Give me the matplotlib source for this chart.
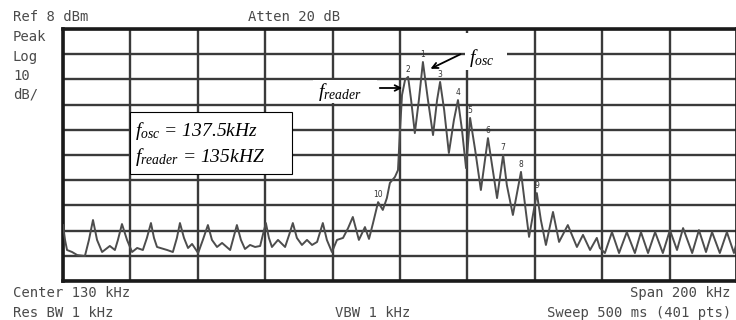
import matplotlib
matplotlib.use("Agg")
import matplotlib.pyplot as plt
from matplotlib.patches import Rectangle
import numpy as np

# spectrum trace (kHz, dBm)
freq_khz = [30.0, 30.6, 31.2, 32.7, 34.2, 36.5, 37.7, 38.9, 40.1, 41.6,
            43.9, 45.4, 46.3, 47.5, 49.0, 50.5, 52.0, 53.7, 54.9, 56.1,
            57.0, 57.9, 60.9, 62.6, 63.8, 64.7, 65.9, 67.1, 68.3, 70.1,
            71.5, 73.0, 74.2, 75.7, 77.2, 79.6, 80.4, 81.6, 82.8, 84.0,
            85.5, 87.0, 88.5, 89.3, 90.2, 91.1, 92.0, 93.8, 95.9, 97.1,
            98.2, 99.4, 100.9, 102.4, 103.9, 105.4, 106.3, 107.1, 108.3, 109.8,
            111.3, 113.1, 114.6, 116.0, 117.8, 119.6, 120.8, 122.0, 123.5, 124.9,
            126.1, 127.0, 128.5, 129.4, 130.0, 130.6, 131.5, 132.4, 133.3, 134.4,
            135.6, 136.8, 138.3, 139.8, 141.0, 141.9, 143.1, 144.5, 146.0, 147.2,
            148.4, 149.6, 150.8, 152.3, 154.0, 156.1, 157.3, 158.8, 160.6, 161.7,
            163.5, 165.9, 167.1, 168.3, 170.6, 171.8, 173.3, 175.4, 177.2, 179.8,
            182.5, 184.3, 186.4, 188.4, 189.3, 190.8, 192.9, 195.0, 197.3, 199.7,
            201.5, 203.6, 205.7, 208.0, 210.1, 212.2, 214.0, 216.7, 218.7, 220.8,
            222.6, 224.9, 227.0, 229.1, 229.7]
level_dbm = [-69.8, -75.7, -79.7, -80.5, -81.7, -82.1, -75.7, -67.8, -75.7, -80.5,
             -78.1, -79.7, -75.7, -69.4, -75.7, -80.5, -78.9, -79.7, -74.9, -69.0,
             -74.9, -78.5, -79.7, -80.5, -74.9, -69.0, -74.9, -78.9, -77.3, -80.9,
             -75.7, -69.8, -75.7, -78.5, -76.9, -79.7, -75.7, -69.8, -75.7, -79.3,
             -77.7, -78.5, -78.1, -73.7, -69.0, -74.9, -78.5, -75.7, -78.5, -73.7,
             -69.0, -74.9, -77.7, -75.7, -77.7, -76.5, -72.6, -69.0, -75.7, -80.5,
             -75.7, -74.9, -71.0, -66.6, -75.7, -70.6, -75.3, -69.0, -60.7, -63.8,
             -59.1, -53.1, -50.7, -48.0, -32.1, -18.2, -12.2, -11.0, -20.2, -33.3,
             -20.2, -5.1, -20.2, -34.1, -20.2, -13.0, -24.1, -41.2, -28.1, -20.2,
             -32.1, -47.2, -27.3, -40.0, -55.9, -35.3, -46.0, -59.1, -42.0, -53.9,
             -65.8, -48.7, -61.8, -74.5, -57.1, -67.8, -77.7, -64.6, -76.5, -69.8,
             -78.5, -73.7, -79.7, -74.9, -78.9, -80.9, -72.6, -80.9, -72.6, -80.9,
             -72.6, -80.9, -72.6, -80.9, -71.8, -79.7, -71.0, -80.9, -71.8, -80.5,
             -72.6, -80.9, -72.6, -80.9, -77.7]

# peak markers on the trace
marker_labels = ['1', '2', '3', '4', '5', '6', '7', '8', '9', '10']
marker_khz = [136.8, 132.4, 141.9, 147.2, 150.8, 156.1, 160.6, 165.9, 170.6, 123.5]

center_khz = 130
span_khz = 200
ref_dbm = 8
db_per_div = 10

W, H = 736, 320
INK = '#4a4a4a'
MONO = 'DejaVu Sans Mono'

plt.rcParams['mathtext.fontset'] = 'custom'
plt.rcParams['mathtext.it'] = 'Liberation Serif:italic'
plt.rcParams['mathtext.rm'] = 'Liberation Serif'


def fx(x):
    return x / W


def fy(y):
    return 1 - y / H


fig = plt.figure(figsize=(W / 100, H / 100), dpi=100)
ax = fig.add_axes([fx(63), fy(281), 674 / W, 252 / H])

x0 = center_khz - span_khz / 2
x1 = center_khz + span_khz / 2
y0 = ref_dbm - 10 * db_per_div
ax.set_xlim(x0, x1)
ax.set_ylim(y0, ref_dbm)
ax.set_xticks(np.linspace(x0, x1, 11))
ax.set_yticks(np.linspace(y0, ref_dbm, 11))
ax.tick_params(length=0, labelbottom=False, labelleft=False)
ax.grid(True, color='#3a3a3a', lw=1.7)
for s in ax.spines.values():
    s.set_linewidth(2.6)
    s.set_color('#1a1a1a')

ax.plot(freq_khz, level_dbm, color='#4d4d4d', lw=1.4, zorder=3)

for lab, f in zip(marker_labels, marker_khz):
    lv = np.interp(f, freq_khz, level_dbm)
    ax.annotate(lab, (f, lv), xytext=(0, 2), textcoords='offset points',
                ha='center', va='bottom', fontsize=5.5, color='#333333', zorder=4)

# screen header / footer text
fig.text(fx(13), fy(17), 'Ref 8 dBm', family=MONO, fontsize=10, color=INK, va='center')
fig.text(fx(248), fy(17), 'Atten 20 dB', family=MONO, fontsize=10, color=INK, va='center')
for txt, yy in zip(['Peak', 'Log', '10', 'dB/'], [37, 57, 76, 95]):
    fig.text(fx(13), fy(yy), txt, family=MONO, fontsize=10, color=INK, va='center')
fig.text(fx(13), fy(293), 'Center 130 kHz', family=MONO, fontsize=10, color=INK, va='center')
fig.text(fx(731), fy(293), 'Span 200 kHz', family=MONO, fontsize=10, color=INK, va='center', ha='right')
fig.text(fx(13), fy(313), 'Res BW 1 kHz', family=MONO, fontsize=10, color=INK, va='center')
fig.text(fx(335), fy(313), 'VBW 1 kHz', family=MONO, fontsize=10, color=INK, va='center')
fig.text(fx(731), fy(313), 'Sweep 500 ms (401 pts)', family=MONO, fontsize=10, color=INK,
         va='center', ha='right')

# annotation box
ax.add_patch(Rectangle((fx(130), fy(174)), fx(162), 62 / H, transform=fig.transFigure,
                       facecolor='white', edgecolor='black', lw=0.8, zorder=5, clip_on=False))
fig.text(fx(135), fy(131), r'$f_{osc}$ = 137.5kHz', family='Liberation Serif', style='italic',
         fontsize=14, va='center', zorder=6)
fig.text(fx(135), fy(157), r'$f_{reader}$ = 135kHZ', family='Liberation Serif', style='italic',
         fontsize=14, va='center', zorder=6)

# white patches behind the arrow labels
ax.add_patch(Rectangle((fx(313), fy(103)), 64 / W, 23 / H, transform=fig.transFigure,
                       facecolor='white', edgecolor='none', zorder=5, clip_on=False))
ax.add_patch(Rectangle((fx(465), fy(70)), 42 / W, 37 / H, transform=fig.transFigure,
                       facecolor='white', edgecolor='none', zorder=5, clip_on=False))
fig.text(fx(318), fy(92), r'$f_{reader}$', fontsize=14, va='center', zorder=6)
fig.text(fx(469), fy(58), r'$f_{osc}$', fontsize=14, va='center', zorder=6)

ax.annotate('', xy=(fx(405), fy(88)), xytext=(fx(377), fy(88)),
            xycoords='figure fraction', textcoords='figure fraction',
            arrowprops=dict(arrowstyle='->', color='black', lw=1.3), zorder=6)
ax.annotate('', xy=(fx(428), fy(70)), xytext=(fx(463), fy(53)),
            xycoords='figure fraction', textcoords='figure fraction',
            arrowprops=dict(arrowstyle='->', color='black', lw=1.3), zorder=6)

fig.savefig('out.png', dpi=100)
